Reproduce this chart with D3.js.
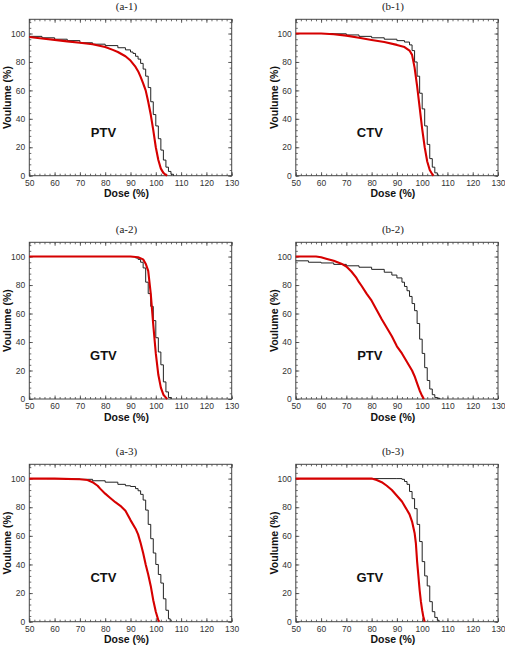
<!DOCTYPE html>
<html><head><meta charset="utf-8">
<script src="https://cdn.jsdelivr.net/npm/d3@7"></script>
<style>body{margin:0;background:#fff} svg{display:block}</style>
</head><body>
<script>
// ---------- DATA ----------
const xTicks = [50, 60, 70, 80, 90, 100, 110, 120, 130];
const yTicks = [0, 20, 40, 60, 80, 100];
const panelTitles = ["(a-1)", "(b-1)", "(a-2)", "(b-2)", "(a-3)", "(b-3)"];
const structureLabels = ["PTV", "CTV", "GTV", "PTV", "CTV", "GTV"];
const xAxisTitle = "Dose (%)";
const yAxisTitle = "Voulume (%)";

// [dose %, volume %]
const a1Black = [[50,98],[55,97],[60,96],[65,95],[70,93.5],[75,92.5],[80,91.5],[85,90],[88,88.5],[90,87],[91,86],[92,84],[93,82],[94,79],[95,75],[96,70],[97,62],[98,52],[99,43],[100,35],[101,26],[102,18],[103,11],[104,6],[105,3],[106,1],[107,0]];
const a1Red = [[50,97.5],[55,96.5],[60,95.5],[65,94.5],[70,93.5],[75,92.5],[80,90.5],[83,88.5],[85,87],[88,84],[90,81],[92,76.5],[93,73.5],[94,69.5],[95,65],[96,60],[97,52],[98,43],[99,32],[100,20],[101,11],[102,5],[103,2],[104,0.5],[104.5,0]];

const b1Black = [[57,100],[65,99.8],[70,99],[75,98],[80,97],[85,96],[90,95],[93,94],[95,92],[96,88],[97,80],[98,70],[99,58],[100,47],[101,35],[102,22],[103,12],[104,6],[105,2],[106,0.5],[106.5,0]];
const b1Red = [[50,100],[60,100],[65,99.5],[70,98.5],[75,97],[80,95.5],[85,94],[90,92],[93,90.5],[95,88],[96,85],[97,76],[98,63],[99,48],[100,33],[101,20],[102,10],[103,4],[104,1],[104.5,0]];

const a2Black = [[50,100],[90,100],[92,99],[93,98],[94,96],[95,92],[96,82],[97,74],[98,65],[99,55],[100,43],[101,33],[102,24],[103,12],[104,5],[105,1],[106,0]];
const a2Red = [[50,100],[90,100],[93,99.5],[95,98],[96,95],[97,90],[98,74],[99,52],[100,32],[101,17],[102,8],[103,3],[104,1],[104.5,0]];

const b2Black = [[50,97],[55,96],[60,95.5],[65,94.5],[70,93.5],[75,92.5],[80,91],[85,89],[88,87],[90,85],[92,82],[93,79],[94,76],[95,72],[96,67],[97,62],[98,53],[99,42],[100,32],[101,22],[102,13],[103,7],[104,3],[105,1],[106,0.5],[107,0]];
const b2Red = [[50,100],[58,100],[60,99.5],[62,98.5],[65,97],[68,95],[70,93],[72,89.5],[74,85],[75,82],[76,79.5],[78,74],[80,69],[82,62.5],[84,56],[86,50],[88,44],[90,37],[92,32],[94,26],[96,20],[97,16],[98,11],[99,6],[100,2],[100.7,0]];

const a3Black = [[57,100],[65,99.8],[70,99.5],[75,98.5],[80,97.5],[85,96],[88,95],[90,94.5],[92,93],[93,91.5],[94,89],[95,85],[96,78],[97,68],[98,58],[99,48],[100,40],[101,33],[102,27],[103,16],[104,8],[105,2],[105.7,0]];
const a3Red = [[50,100],[60,100],[70,99.5],[73,99],[75,97.5],[77,95],[78,93],[80,89.5],[82,86.5],[84,83.5],[86,81],[88,77.5],[90,71],[92,65],[93,61],[94,55],[95,48],[96,40],[97,33],[98,25],[99,15],[100,7],[101,1],[101.4,0]];

const b3Black = [[50,100],[90,100],[92,99.5],[93,98],[94,96],[95,91],[96,86],[97,79],[98,68],[99,56],[100,42],[101,32],[102,25],[103,14],[104,7],[105,3],[106,1],[106.7,0]];
const b3Red = [[50,100],[80,100],[82,99],[84,97.5],[86,95],[88,92],[90,88],[92,84],[94,78],[95,75],[96,70],[97,62],[97.5,55],[98,42],[98.5,32],[99,22],[99.5,14],[100,8],[100.5,3],[101,0]];

const blackSeries = [a1Black, b1Black, a2Black, b2Black, a3Black, b3Black];
const redSeries = [a1Red, b1Red, a2Red, b2Red, a3Red, b3Red];
const labelPos = [79.3, 27.5]; // dose, volume

// ---------- LAYOUT ----------
const W = 505, H = 646;
const colX = [[29.3, 231.7], [295.8, 498]];
const rowY = [[19.3, 175.7], [242.3, 399], [464.3, 621.7]];

const svg = d3.select("body").append("svg").attr("width", W).attr("height", H);
const sans = "'Liberation Sans', Arial, sans-serif";
const serif = "'Liberation Serif', 'Times New Roman', serif";

panelTitles.forEach((title, i) => {
  const c = i % 2, r = Math.floor(i / 2);
  const [x0, x1] = colX[c], [y0, y1] = rowY[r];
  const x = d3.scaleLinear().domain([50, 130]).range([x0, x1]);
  const y = d3.scaleLinear().domain([0, 110]).range([y1, y0]);
  const g = svg.append("g");

  const minorX = d3.range(50, 131, 2);
  const minorY = d3.range(0, 111, 4);

  function styleAxis(sel) {
    sel.select(".domain").remove();
    sel.selectAll(".tick line").attr("stroke", "#444").attr("stroke-width", 0.8);
    sel.selectAll(".tick text").attr("font-family", sans).attr("font-size", 8.5).attr("fill", "#333");
  }
  // minor ticks on all sides
  g.append("g").attr("transform", `translate(0,${y1})`)
    .call(d3.axisBottom(x).tickValues(minorX).tickSize(-2).tickFormat("")).call(styleAxis);
  g.append("g").attr("transform", `translate(0,${y0})`)
    .call(d3.axisTop(x).tickValues(minorX).tickSize(-2).tickFormat("")).call(styleAxis);
  g.append("g").attr("transform", `translate(${x0},0)`)
    .call(d3.axisLeft(y).tickValues(minorY).tickSize(-2).tickFormat("")).call(styleAxis);
  g.append("g").attr("transform", `translate(${x1},0)`)
    .call(d3.axisRight(y).tickValues(minorY).tickSize(-2).tickFormat("")).call(styleAxis);
  // major ticks with labels
  g.append("g").attr("transform", `translate(0,${y1})`)
    .call(d3.axisBottom(x).tickValues(xTicks).tickSizeInner(-3.5).tickSizeOuter(0).tickPadding(4)).call(styleAxis);
  g.append("g").attr("transform", `translate(${x0},0)`)
    .call(d3.axisLeft(y).tickValues(yTicks).tickSizeInner(-3.5).tickSizeOuter(0).tickPadding(4)).call(styleAxis);
  g.append("g").attr("transform", `translate(0,${y0})`)
    .call(d3.axisTop(x).tickValues(xTicks).tickSize(-3.5).tickFormat("")).call(styleAxis);
  g.append("g").attr("transform", `translate(${x1},0)`)
    .call(d3.axisRight(y).tickValues(yTicks).tickSize(-3.5).tickFormat("")).call(styleAxis);

  // frame
  g.append("rect").attr("x", x0).attr("y", y0).attr("width", x1 - x0).attr("height", y1 - y0)
    .attr("fill", "none").attr("stroke", "#444").attr("stroke-width", 1);

  // curves
  const lineStep = d3.line().x(d => x(d[0])).y(d => y(d[1])).curve(d3.curveStepAfter);
  const lineLin = d3.line().x(d => x(d[0])).y(d => y(d[1]));
  g.append("path").attr("d", lineStep(blackSeries[i])).attr("fill", "none")
    .attr("stroke", "#222").attr("stroke-width", 1);
  g.append("path").attr("d", lineLin(redSeries[i])).attr("fill", "none")
    .attr("stroke", "#d60000").attr("stroke-width", 2.1).attr("stroke-linejoin", "round");

  // structure label
  g.append("text").attr("x", x(labelPos[0])).attr("y", y(labelPos[1]))
    .attr("text-anchor", "middle").attr("font-family", sans).attr("font-weight", "bold")
    .attr("font-size", 13).attr("fill", "#111").text(structureLabels[i]);

  const cx = (x0 + x1) / 2 - 4;
  // panel title
  g.append("text").attr("x", cx).attr("y", y0 - 9)
    .attr("text-anchor", "middle").attr("font-family", serif).attr("font-size", 11)
    .attr("fill", "#222").text(title);
  // x axis title
  g.append("text").attr("x", cx).attr("y", y1 + 21.5)
    .attr("text-anchor", "middle").attr("font-family", sans).attr("font-weight", "bold")
    .attr("font-size", 10.5).attr("fill", "#111").text(xAxisTitle);
  // y axis title
  g.append("text").attr("transform", `translate(${x0 - 18},${(y0 + y1) / 2}) rotate(-90)`)
    .attr("text-anchor", "middle").attr("font-family", sans).attr("font-weight", "bold")
    .attr("font-size", 10.5).attr("fill", "#111").text(yAxisTitle);
});
</script>
</body></html>
